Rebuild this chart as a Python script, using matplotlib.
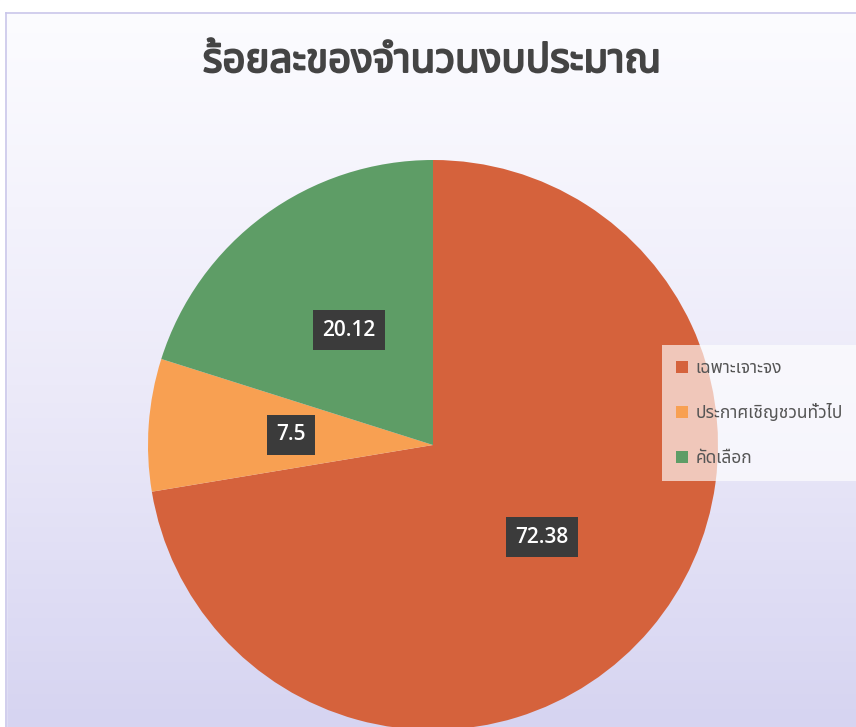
import matplotlib
matplotlib.use("Agg")
import matplotlib.pyplot as plt
from matplotlib import font_manager
import matplotlib.patheffects as pe
import numpy as np
from matplotlib.colors import LinearSegmentedColormap

# ---- data ----
title = "ร้อยละของจำนวนงบประมาณ"
categories = ["เฉพาะเจาะจง", "ประกาศเชิญชวนทั่วไป", "คัดเลือก"]
values = [72.38, 7.5, 20.12]
colors = ["#D5623C", "#F8A052", "#5E9D66"]

# ---- find a font with Thai glyphs ----
def find_thai_font():
    try:
        from fontTools.ttLib import TTFont
    except Exception:
        return None
    prefs = ["Noto Sans Thai", "Noto Sans Thai UI", "Tahoma", "Loma", "Garuda", "Norasi",
             "Kinnari", "Sarabun", "Leelawadee", "Noto Serif Thai"]
    found = {}
    for f in font_manager.fontManager.ttflist:
        try:
            tt = TTFont(f.fname, fontNumber=0, lazy=True)
            cmap = tt.getBestCmap()
            if cmap and 0x0E01 in cmap and 0x0E23 in cmap:
                found.setdefault(f.name, f.fname)
        except Exception:
            continue
    for p in prefs:
        if p in found:
            return p
    if found:
        return sorted(found)[0]
    return None

thai = find_thai_font()
fam = [thai, "DejaVu Sans"] if thai else ["DejaVu Sans"]
plt.rcParams["font.family"] = fam

W, H = 856, 727
fig = plt.figure(figsize=(W / 100, H / 100), dpi=100)
fig.patch.set_facecolor("white")

# background gradient
bg = fig.add_axes([0, 0, 1, 1], zorder=0)
bg.axis("off")
ny = 200
grad = np.linspace(0, 1, ny)[:, None] ** 1.1
cmap = LinearSegmentedColormap.from_list("bg", ["#FCFCFF", "#ECEAF9", "#D6D4F1"])
bg.imshow(grad, aspect="auto", cmap=cmap, extent=[0, 1, 0, 1], origin="upper")
bg.set_xlim(0, 1)
bg.set_ylim(0, 1)
# white strips outside chart border
bg.axhspan(1 - 13 / H, 1, color="white", zorder=2)
bg.axvspan(0, 6 / W, color="white", zorder=2)
bg.plot([6 / W, 1], [1 - 13 / H] * 2, color="#C9C6EA", lw=1.2, zorder=3)
bg.plot([6 / W] * 2, [0, 1 - 13 / H], color="#C9C6EA", lw=1.2, zorder=3)

# pie axes
cx, cy, r = 433, 445, 285
ax = fig.add_axes([0, 0, 1, 1], zorder=1)
ax.patch.set_alpha(0)
wedges, texts, autotexts = ax.pie(
    values, colors=colors, startangle=90, counterclock=False,
    radius=1, center=(0, 0),
    autopct=lambda p: f"{round(p, 2):g}", pctdistance=0.5,
    wedgeprops=dict(linewidth=0),
    textprops=dict(color="white", fontsize=15, family="Open Sans", fontweight="semibold"),
)
for t in autotexts:
    t.set_bbox(dict(boxstyle="square,pad=0.45", facecolor="#3B3B3B", edgecolor="none"))
ax.set_xlim(-cx / r, (W - cx) / r)
ax.set_ylim(-(H - cy) / r, cy / r)
ax.set_aspect("equal")
ax.axis("off")

fig.text(432 / W, 1 - 62 / H, title, ha="center", va="center",
         fontsize=29, fontweight="bold", color="#444444",
         path_effects=[pe.withStroke(linewidth=1.4, foreground="#444444")])

leg = ax.legend(wedges, categories, loc="upper left",
                bbox_to_anchor=(662 / W, 1 - 345 / H), bbox_transform=fig.transFigure,
                frameon=True, fancybox=False, framealpha=0.65, facecolor="white",
                edgecolor="none", fontsize=12.5, labelspacing=1.55, handlelength=0.7,
                handleheight=0.7, handletextpad=0.45, borderpad=0.8, borderaxespad=0)
for t in leg.get_texts():
    t.set_color("#555555")

fig.savefig("out.png", dpi=100)
